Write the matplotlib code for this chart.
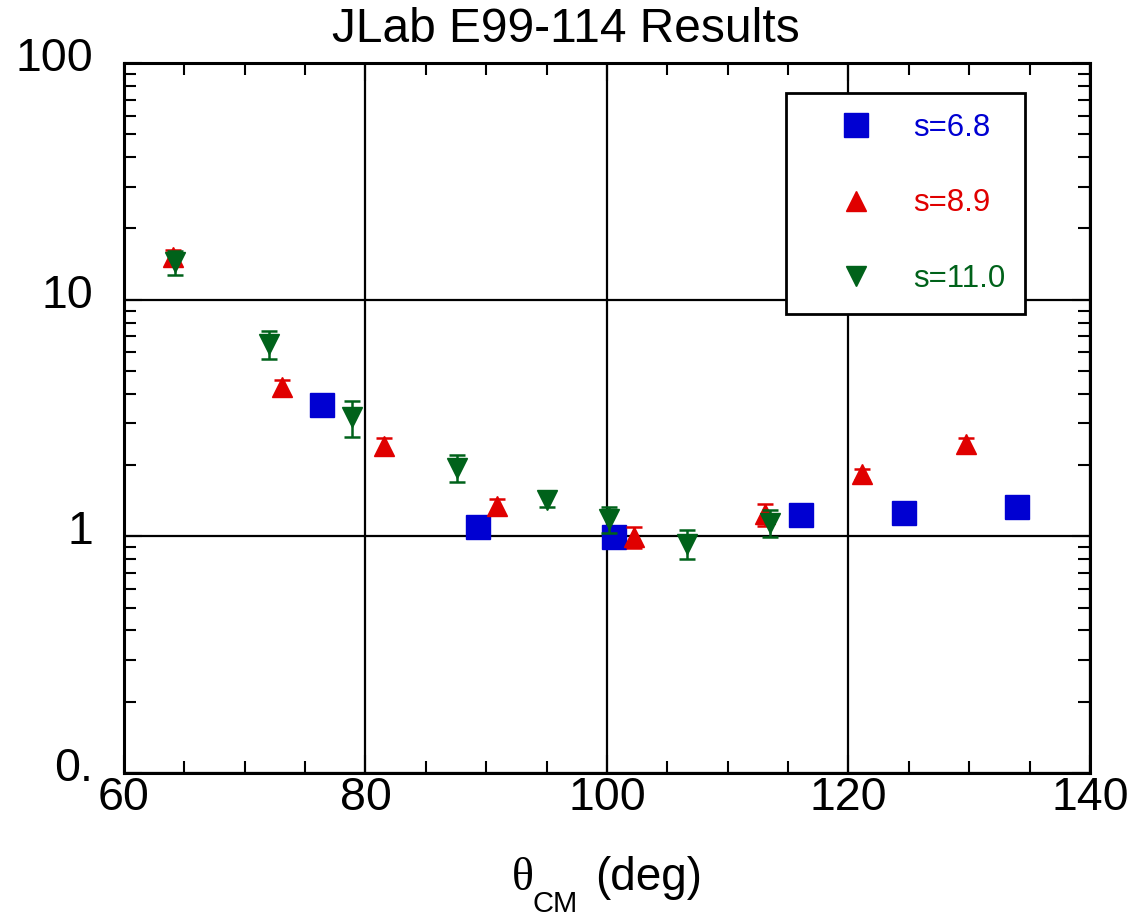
import numpy as np
import matplotlib
matplotlib.use("Agg")
import matplotlib.pyplot as plt
import matplotlib.transforms as mtransforms
from matplotlib.ticker import FixedLocator, FixedFormatter, MultipleLocator, NullFormatter

plt.rcParams['font.family'] = ['Liberation Sans', 'DejaVu Sans']

# s = 6.8
theta_68 = [76.4, 89.3, 100.6, 116.1, 124.6, 134.0]
val_68 = [3.58, 1.10, 0.99, 1.23, 1.26, 1.33]
err_68 = [0.12, 0.06, 0.05, 0.05, 0.05, 0.06]

# s = 8.9
theta_89 = [64.1, 73.1, 81.5, 90.9, 102.2, 113.1, 121.1, 129.7]
val_89 = [15.1, 4.27, 2.40, 1.34, 0.99, 1.24, 1.83, 2.45]
err_89 = [1.1, 0.3, 0.2, 0.1, 0.1, 0.13, 0.1, 0.15]

# s = 11.0
theta_110 = [64.2, 72.0, 78.9, 87.6, 95.0, 100.2, 106.6, 113.5]
val_110 = [14.4, 6.49, 3.18, 1.95, 1.43, 1.18, 0.93, 1.14]
err_110 = [1.7, 0.9, 0.55, 0.25, 0.1, 0.15, 0.13, 0.15]

ytick_vals = [0.1, 1, 10, 100]
ytick_labels = ["0.", "1", "10", "100"]

blue = '#0000d2'
red = '#e00000'
green = '#00621a'

fig = plt.figure(figsize=(11.33, 9.19), dpi=100)
ax = fig.add_axes([0.1094, 0.1589, 0.8526, 0.7725])

eb = dict(capsize=5.5, elinewidth=1.8, capthick=1.8)
ax.errorbar(theta_68, val_68, yerr=err_68, fmt='s', color=blue, ms=17,
            label='s=6.8', zorder=3, **eb)
ax.errorbar(theta_89, val_89, yerr=err_89, fmt='^', color=red, ms=14,
            label='s=8.9', zorder=4, **eb)
ax.errorbar(theta_110, val_110, yerr=err_110, fmt='v', color=green, ms=14,
            label='s=11.0', zorder=5, **eb)

ax.set_yscale('log')
ax.set_xlim(60, 140)
ax.set_ylim(0.1, 100)

ax.xaxis.set_major_locator(MultipleLocator(20))
ax.xaxis.set_minor_locator(MultipleLocator(5))
ax.yaxis.set_major_locator(FixedLocator(ytick_vals))
ax.yaxis.set_major_formatter(FixedFormatter(ytick_labels))
minor = [m * 10.0 ** e for e in (-1, 0, 1) for m in range(2, 10)]
ax.yaxis.set_minor_locator(FixedLocator(minor))
ax.yaxis.set_minor_formatter(NullFormatter())

ax.tick_params(which='both', direction='in', top=True, right=True,
               labelsize=33.5, width=1.5)
ax.tick_params(which='major', length=13)
ax.tick_params(which='minor', length=8.5)
ax.tick_params(axis='x', pad=2)
ax.tick_params(axis='y', pad=22)

# y tick labels sit a little above their ticks in the original
shift = mtransforms.ScaledTranslation(0, 0.09, fig.dpi_scale_trans)
for lab in ax.get_yticklabels():
    lab.set_transform(lab.get_transform() + shift)

ax.grid(True, which='major', color='black', linewidth=1.6)
for sp in ax.spines.values():
    sp.set_linewidth(2.2)

fig.text(0.4996, 1 - 42 / 919, 'JLab E99-114 Results', fontsize=34.5,
         ha='center', va='baseline')

# x label: theta with subscript CM, then (deg)
fig.text(512 / 1133, 1 - 890 / 919, '\u03b8', fontsize=33,
         family='Liberation Serif', va='baseline')
fig.text(532 / 1133, 1 - 912 / 919, 'CM', fontsize=21, va='baseline')
fig.text(595 / 1133, 1 - 890 / 919, '(deg)', fontsize=33, va='baseline')

handles, labels = ax.get_legend_handles_labels()
handles = [h[0] for h in handles]
leg = ax.legend(handles, labels, loc='upper left', bbox_to_anchor=(0.685, 0.958),
                borderaxespad=0, fontsize=22.5, frameon=True, fancybox=False,
                framealpha=1, labelspacing=1.45, borderpad=0.65,
                handletextpad=0.22, handlelength=3.2, markerscale=1.0)
leg.get_frame().set_edgecolor('black')
leg.get_frame().set_linewidth(2.0)
leg.set_zorder(10)
for t, c in zip(leg.get_texts(), [blue, red, green]):
    t.set_color(c)

fig.savefig('out.png', dpi=100)
